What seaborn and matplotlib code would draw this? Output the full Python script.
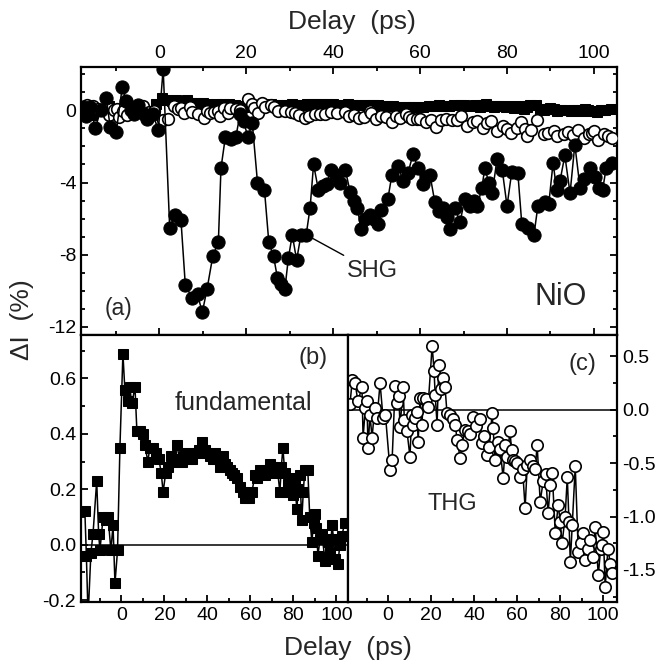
import matplotlib
matplotlib.use("Agg")
import matplotlib.pyplot as plt
from matplotlib.ticker import MultipleLocator, FormatStrFormatter
import seaborn as sns

# SHG signal (%), filled circles
shg_t = [-17.6, -16.8, -15.9, -14.7, -13.5, -12.2, -11.3, -9.9, -8.5, -7.6, -6.6, -5.9, -4.8, -3.6,
         -2.8, -1.5, -0.2, 0.9, 2.4, 3.6, 5.0, 6.0, 7.6, 8.8, 9.9, 11.0, 12.3, 13.6, 14.2, 15.2, 16.4,
         17.6, 18.6, 19.4, 20.4, 21.4, 22.6, 24.2, 25.2, 26.3, 27.2, 28.1, 28.9, 29.7, 30.6, 31.6,
         32.6, 33.8, 34.7, 35.5, 36.6, 37.6, 38.6, 39.4, 40.6, 41.6, 42.8, 43.9, 44.8, 45.6, 46.4,
         47.4, 48.4, 49.4, 50.3, 51.0, 52.6, 53.5, 54.9, 56.1, 57.2, 58.4, 59.5, 60.7, 61.4, 62.3,
         63.4, 64.4, 65.2, 66.2, 66.9, 68.0, 69.2, 70.3, 71.5, 72.4, 73.2, 74.2, 74.9, 75.8, 76.6,
         77.7, 78.9, 80.0, 81.1, 82.5, 83.4, 84.8, 86.2, 87.1, 88.7, 89.6, 90.6, 91.4, 92.2, 93.3,
         94.5, 95.6, 96.8, 97.8, 99.1, 100.2, 101.2, 102.0, 102.8, 104.1]
shg_v = [0.2, -0.3, 0.2, -1.0, 0.0, 0.7, -0.9, -1.2, 1.3, 0.5, 0.0, -0.2, 0.3, -0.2,
         -0.5, -0.2, -1.1, 2.3, -6.5, -5.8, -6.1, -9.7, -10.4, -10.2, -11.2, -9.9, -8.1, -7.3, -3.2, -1.5, -1.6,
         -1.5, -0.2, -0.6, -1.5, -0.7, -4.0, -4.4, -7.3, -8.1, -9.3, -9.6, -9.9, -8.2, -6.9, -8.3,
         -6.9, -6.9, -5.4, -3.0, -4.4, -4.2, -4.1, -3.3, -3.6, -4.0, -3.3, -4.5, -5.0, -5.4, -6.6,
         -6.0, -5.8, -6.0, -6.3, -5.5, -4.9, -3.6, -3.1, -3.9, -3.5, -2.4, -3.2, -4.1, -3.7, -3.6,
         -5.1, -5.6, -5.4, -5.9, -6.6, -5.4, -6.2, -4.9, -5.3, -5.0, -5.3, -4.3, -3.2, -4.0, -4.6,
         -2.7, -3.3, -5.3, -3.4, -3.5, -6.3, -6.5, -6.9, -5.3, -5.1, -5.2, -2.9, -4.4, -3.9, -2.5,
         -4.6, -1.9, -4.3, -3.8, -3.2, -3.7, -4.3, -4.4, -3.2, -2.9]

# fundamental (%), filled squares
fund_t = [-17.0, -16.3, -15.5, -14.2, -13.2, -11.5, -10.6, -10.0, -8.5, -7.3, -6.2, -4.9, -3.9, -3.0,
          -1.8, -0.7, 0.7, 1.6, 3.0, 3.8, 4.9, 6.3, 7.2, 8.6, 10.0, 10.9, 12.3, 13.2, 14.6, 16.0,
          17.4, 18.5, 19.4, 20.6, 21.6, 23.0, 24.2, 25.8, 27.0, 28.1, 29.3, 30.5, 31.7, 32.8, 34.0,
          35.1, 36.3, 37.4, 38.8, 40.0, 41.2, 42.4, 43.5, 44.6, 45.8, 47.2, 48.2, 49.1, 50.3, 51.4,
          52.6, 53.7, 55.1, 56.6, 57.5, 58.4, 59.5, 60.7, 62.1, 63.2, 64.4, 65.5, 66.7, 67.9, 69.1,
          70.2, 71.4, 72.6, 73.7, 74.4, 75.1, 76.0, 76.9, 77.6, 78.4, 79.8, 80.6, 81.6, 82.3, 83.0,
          83.9, 84.6, 85.3, 86.7, 87.6, 88.6, 89.4, 90.0, 90.7, 91.4, 92.4, 93.3, 94.7, 95.4, 96.1,
          97.0, 98.0, 98.7, 99.4, 100.7, 101.6, 102.5, 103.9]
fund_v = [0.12, -0.04, -0.26, -0.03, 0.04, 0.23, 0.04, -0.02, 0.10, 0.09, 0.10, -0.02, 0.07, -0.14,
          -0.02, 0.35, 0.69, 0.56, 0.52, 0.57, 0.51, 0.57, 0.41, 0.41, 0.40, 0.36, 0.30, 0.35, 0.35, 0.33,
          0.31, 0.26, 0.19, 0.26, 0.28, 0.32, 0.30, 0.36, 0.31, 0.30, 0.32, 0.33, 0.31, 0.31, 0.33,
          0.33, 0.34, 0.37, 0.34, 0.33, 0.32, 0.31, 0.33, 0.31, 0.28, 0.32, 0.29, 0.28, 0.27, 0.26,
          0.25, 0.24, 0.21, 0.19, 0.17, 0.18, 0.17, 0.19, 0.25, 0.24, 0.27, 0.26, 0.25, 0.27, 0.29,
          0.28, 0.26, 0.27, 0.19, 0.28, 0.35, 0.26, 0.19, 0.22, 0.24, 0.18, 0.22, 0.13, 0.20, 0.25,
          0.09, 0.19, 0.27, 0.27, 0.10, 0.01, 0.08, 0.11, 0.06, -0.04, 0.02, 0.04, -0.06, 0.02, 0.01,
          -0.03, 0.07, 0.02, -0.05, -0.07, 0.00, 0.03, 0.08]

# THG (%), open circles
thg_t = [-17.7, -16.6, -15.3, -14.0, -12.1, -11.6, -10.5, -9.8, -9.3, -8.4, -7.4, -6.2, -5.1, -3.7,
         -2.3, -1.2, 0.9, 1.9, 3.3, 4.2, 5.0, 5.6, 7.0, 7.6, 8.8, 10.2, 11.0, 11.6, 12.6, 13.5, 14.0,
         14.9, 15.8, 16.3, 17.6, 18.6, 20.5, 21.4, 21.9, 22.8, 23.6, 24.4, 25.6, 26.5, 27.4, 29.0,
         30.2, 31.2, 32.1, 33.5, 34.4, 35.8, 37.0, 38.1, 39.5, 41.0, 42.8, 43.7, 44.8, 46.0, 47.0,
         48.4, 48.8, 49.8, 51.0, 52.1, 53.5, 54.5, 55.3, 56.7, 57.4, 58.1, 59.2, 60.0, 61.4, 62.5,
         63.7, 64.7, 66.0, 67.4, 68.4, 69.3, 70.7, 72.1, 73.2, 74.4, 75.4, 76.3, 77.7, 79.1, 80.0,
         80.9, 82.3, 83.3, 84.1, 84.7, 85.6, 87.0, 88.4, 89.5, 90.7, 91.6, 93.0, 94.0, 95.2, 96.3,
         97.7, 98.8, 99.5, 100.0, 100.9, 102.2, 103.3, 104.2]
thg_v = [0.05, 0.28, 0.25, 0.08, 0.21, -0.26, 0.02, 0.08, -0.36, -0.05, -0.26, 0.02, -0.08, 0.25,
         -0.08, -0.05, -0.56, -0.47, 0.22, 0.06, 0.13, -0.16, 0.21, -0.10, -0.20, -0.44, -0.05, -0.14, -0.08, -0.02, -0.30,
         0.11, -0.14, 0.11, 0.10, 0.03, 0.60, 0.36, 0.14, -0.14, 0.42, 0.19, 0.30, 0.21, -0.03, -0.05,
         -0.09, -0.14, -0.28, -0.45, -0.33, -0.19, -0.20, -0.23, -0.07, -0.15, -0.09, -0.31, -0.25, -0.42, -0.35,
         -0.03, -0.17, -0.47, -0.30, -0.37, -0.64, -0.33, -0.44, -0.20, -0.38, -0.47, -0.48, -0.50, -0.63, -0.55,
         -0.92, -0.52, -0.47, -0.53, -0.55, -0.33, -0.86, -0.67, -0.60, -0.97, -0.70, -0.59, -1.15, -0.89, -1.05,
         -1.25, -1.00, -0.63, -1.05, -1.43, -1.08, -0.53, -1.33, -1.25, -1.15, -1.41, -1.30, -1.22, -1.38, -1.10,
         -1.55, -1.30, -1.27, -1.14, -1.66, -1.30, -1.44, -1.53]

sns.set_style("ticks")
plt.rcParams['font.family'] = ['Liberation Sans', 'DejaVu Sans']
plt.rcParams['axes.unicode_minus'] = False
plt.rcParams['axes.linewidth'] = 1.5

W, H = 657, 668
fig = plt.figure(figsize=(W / 100, H / 100), dpi=100)


def rect(l, t, r, b):
    return [l / W, 1 - b / H, (r - l) / W, (b - t) / H]


ax_a = fig.add_axes(rect(81, 67, 617, 335))
ax_b = fig.add_axes(rect(81, 335, 348, 602))
ax_c = fig.add_axes(rect(348, 335, 617, 602))

line_kw = dict(color='black', linewidth=1.1, sort=False, estimator=None, legend=False)

# (a) all three signals on the same scale
sns.lineplot(x=fund_t, y=fund_v, ax=ax_a, marker='s', markersize=7.2,
             markeredgecolor='black', markerfacecolor='black', **line_kw)
sns.scatterplot(x=thg_t, y=thg_v, ax=ax_a, marker='o', s=70, facecolor='white',
                edgecolor='black', linewidth=1.2, zorder=3, legend=False)
sns.lineplot(x=shg_t, y=shg_v, ax=ax_a, marker='o', markersize=9.5,
             markeredgecolor='black', markerfacecolor='black', zorder=4, **line_kw)

# (b) fundamental
ax_b.axhline(0, color='black', linewidth=1.1)
sns.lineplot(x=fund_t, y=fund_v, ax=ax_b, marker='s', markersize=7.2,
             markeredgecolor='black', markerfacecolor='black', **line_kw)

# (c) THG
ax_c.axhline(0, color='black', linewidth=1.1)
sns.lineplot(x=thg_t, y=thg_v, ax=ax_c, marker='o', markersize=8.2,
             markeredgecolor='black', markerfacecolor='white', markeredgewidth=1.2, **line_kw)

# axes limits and ticks
ax_a.set_xlim(-18, 105.3)
ax_a.set_ylim(-12.45, 2.4)
ax_b.set_xlim(-18.8, 105.4)
ax_b.set_ylim(-0.207, 0.757)
ax_c.set_xlim(-18.6, 106.4)
ax_c.set_ylim(-1.80, 0.70)

for ax in (ax_a, ax_b, ax_c):
    ax.set_xlabel('')
    ax.set_ylabel('')
    ax.xaxis.set_major_locator(MultipleLocator(20))
    ax.xaxis.set_minor_locator(MultipleLocator(10))
    ax.tick_params(which='both', direction='in', labelsize=14, width=1.3, colors='black')
    ax.tick_params(which='major', length=5)
    ax.tick_params(which='minor', length=3)
    for s in ax.spines.values():
        s.set_linewidth(1.6)
        s.set_color('black')

ax_a.yaxis.set_major_locator(MultipleLocator(4))
ax_a.yaxis.set_minor_locator(MultipleLocator(1))
ax_a.yaxis.set_major_formatter(FormatStrFormatter('%d'))
ax_a.tick_params(which='both', top=True, bottom=True, left=True, right=True,
                 labeltop=True, labelbottom=False, labelleft=True, labelright=False)

ax_b.yaxis.set_major_locator(MultipleLocator(0.2))
ax_b.yaxis.set_minor_locator(MultipleLocator(0.1))
ax_b.yaxis.set_major_formatter(FormatStrFormatter('%.1f'))
ax_b.tick_params(which='both', top=False, bottom=True, left=True, right=False)

ax_c.yaxis.set_major_locator(MultipleLocator(0.5))
ax_c.yaxis.set_minor_locator(MultipleLocator(0.25))
ax_c.yaxis.set_major_formatter(FormatStrFormatter('%.1f'))
ax_c.tick_params(which='both', top=False, bottom=True, left=False, right=True,
                 labelleft=False, labelright=True)

# labels
fig.text(352 / W, 1 - 22 / H, 'Delay  (ps)', ha='center', va='center', fontsize=19)
fig.text(348 / W, 1 - 648 / H, 'Delay  (ps)', ha='center', va='center', fontsize=19)
fig.text(22 / W, 1 - 320 / H, 'ΔI  (%)', ha='center', va='center', rotation=90, fontsize=19)

ax_a.text((119 - 81) / 536, (335 - 309) / 268, '(a)', transform=ax_a.transAxes,
          ha='center', va='center', fontsize=16.5)
ax_a.text((561 - 81) / 536, (335 - 297) / 268, 'NiO', transform=ax_a.transAxes,
          ha='center', va='center', fontsize=22)
i = shg_t.index(33.8)
ax_a.annotate('SHG', xy=(shg_t[i], shg_v[i]), xytext=(49.0, -8.9), ha='center', va='center',
              fontsize=17, arrowprops=dict(arrowstyle='-', color='black', lw=1.0,
                                           shrinkA=2, shrinkB=5))

ax_b.text((313 - 81) / 267, (602 - 358) / 267, '(b)', transform=ax_b.transAxes,
          ha='center', va='center', fontsize=17)
ax_b.text((243 - 81) / 267, (602 - 403) / 267, 'fundamental', transform=ax_b.transAxes,
          ha='center', va='center', fontsize=18)
ax_c.text((582 - 348) / 269, (602 - 364) / 267, '(c)', transform=ax_c.transAxes,
          ha='center', va='center', fontsize=17)
ax_c.text((452 - 348) / 269, (602 - 504) / 267, 'THG', transform=ax_c.transAxes,
          ha='center', va='center', fontsize=17)

fig.savefig('out.png', dpi=100)
